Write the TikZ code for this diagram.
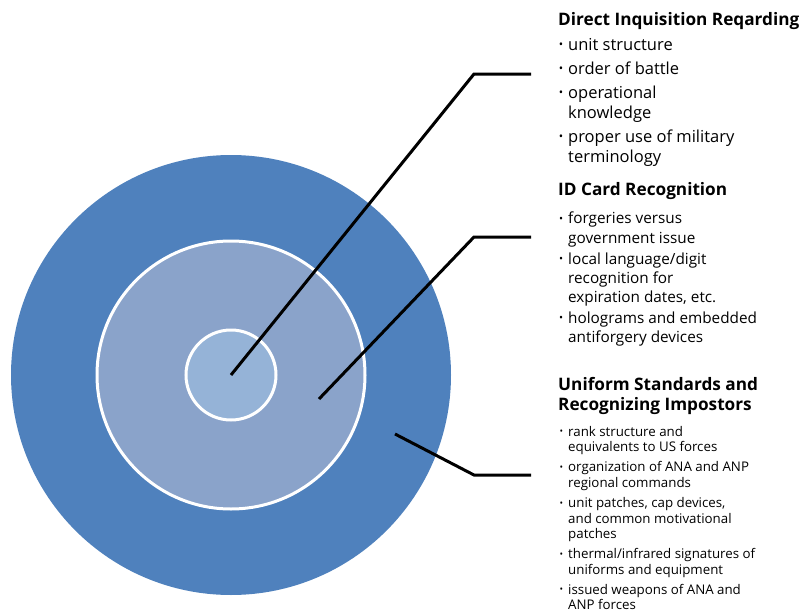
\documentclass[tikz,border=0pt]{standalone}
\usepackage{fontspec}
\setmainfont{Open Sans}
\definecolor{ringout}{HTML}{4F81BD}
\definecolor{ringmid}{HTML}{8AA3CA}
\definecolor{ringin}{HTML}{95B3D7}
\newcommand{\bul}{\llap{\raisebox{1.5pt}{\scalebox{0.7}{\textbullet}}\hspace{5pt}}}
\tikzset{
  ring/.style={draw=white, line width=3pt},
  lead/.style={line width=3pt, line join=miter},
  head/.style={anchor=north west, inner sep=0pt, align=left, font=\bfseries\fontsize{17.2}{20.5}\selectfont},
  items/.style={anchor=north west, inner sep=0pt, align=left},
}

\begin{document}
\begin{tikzpicture}[x=1pt, y=-1pt]
\useasboundingbox (0,0) rectangle (804,613);

\coordinate (core) at (231,375);
\fill[ringout] (core) circle (220pt);
\filldraw[ring, fill=ringmid] (core) circle (134pt);
\filldraw[ring, fill=ringin] (core) circle (45pt);

% pointers
\coordinate (k1) at (474,74);
\coordinate (t1) at (531,74);
\coordinate (p2) at (319,399);
\coordinate (k2) at (474,237);
\coordinate (t2) at (531,237);
\coordinate (p3) at (395,434);
\coordinate (k3) at (474,475);
\coordinate (t3) at (531,475);

\foreach \from/\knee/\to in {core/k1/t1, p2/k2/t2, p3/k3/t3}
	\draw[lead] (\from) -- (\knee) -- (\to);

% direct inquisition
\node[head] (inqhead) at (558,12) {Direct Inquisition Reqarding};
\node[items, font=\fontsize{16.5}{20}\selectfont] (inqlist) at (568,38) {%
\bul unit structure\\[4pt]
\bul order of battle\\[4pt]
\bul operational\\ knowledge\\[4pt]
\bul proper use of military\\ terminology};

% id card
\node[head] (idhead) at (558,182) {ID Card Recognition};
\node[items, font=\fontsize{15.3}{19.3}\selectfont] (idlist) at (568,212) {%
\bul forgeries versus\\ government issue\\[1.5pt]
\bul local language/digit\\ recognition for\\ expiration dates, etc.\\[1.5pt]
\bul holograms and embedded\\ antiforgery devices};

% uniforms
\node[head] (unihead) at (558,377) {Uniform Standards and\\ Recognizing Impostors};
\node[items, font=\fontsize{13.3}{15.6}\selectfont] (unilist) at (568,426) {%
\bul rank structure and\\ equivalents to US forces\\[4.4pt]
\bul organization of ANA and ANP\\ regional commands\\[4.4pt]
\bul unit patches, cap devices,\\ and common motivational\\ patches\\[4.4pt]
\bul thermal/infrared signatures of\\ uniforms and equipment\\[4.4pt]
\bul issued weapons of ANA and\\ ANP forces};
\end{tikzpicture}
\end{document}
